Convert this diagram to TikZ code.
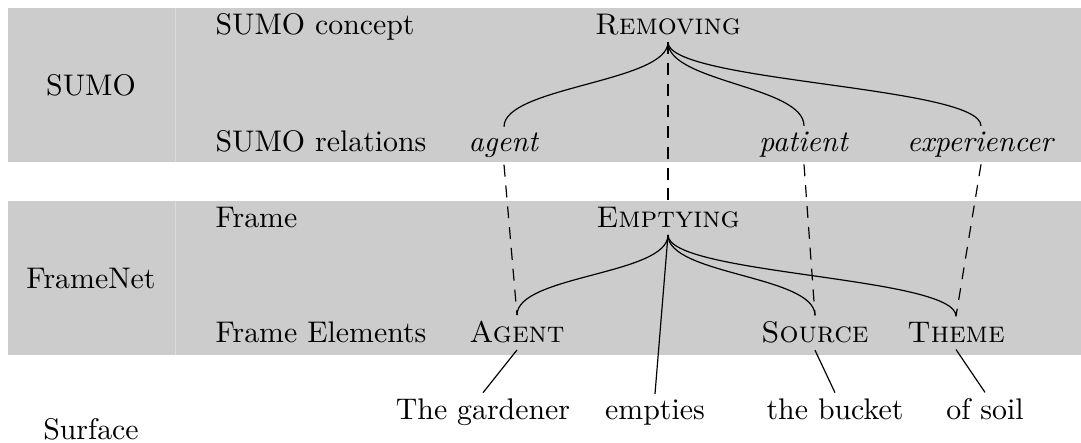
\documentclass[tikz,border=0pt]{standalone}
\usepackage{tikz}
\usetikzlibrary{positioning}
\definecolor{bandgray}{gray}{0.8}
\definecolor{seamgray}{gray}{0.86}

\begin{document}
\begin{tikzpicture}[x=0.335pt, y=0.335pt, every node/.style={inner sep=2pt},
    maplink/.style={dash pattern=on 4pt off 3pt}]
    \useasboundingbox (0,0) rectangle (1081,443);

    % Bänder
    \fill[bandgray] (8,281) rectangle (1081,435);
    \fill[bandgray] (8,88) rectangle (1081,242);
    \draw[seamgray, line width=0.3pt] (175,281) -- (175,435);
    \draw[seamgray, line width=0.3pt] (175,88) -- (175,242);

    % Ebenen
    \node (sumo) at (91,358) {SUMO};
    \node (fnet) at (91,165) {FrameNet};
    \node[anchor=base] (surf) at (91,3) {Surface};

    \node[anchor=base west] (conceptlbl) at (209,408) {SUMO concept};
    \node[anchor=base west] (rellbl) at (209,291) {SUMO relations};
    \node[anchor=base west] (framelbl) at (209,215) {Frame};
    \node[anchor=base west] (felbl) at (209,100) {Frame Elements};

    % Knoten
    \node[anchor=base] (removing) at (668,408) {\textsc{Removing}};
    \node[anchor=base] (agent) at (504,291) {\textit{agent}};
    \node[anchor=base] (patient) at (804,291) {\textit{patient}};
    \node[anchor=base] (exper) at (981,291) {\textit{experiencer}};

    \node[anchor=base] (emptying) at (668,215) {\textsc{Emptying}};
    \node[anchor=base] (Agent) at (517,100) {\textsc{Agent}};
    \node[anchor=base] (Source) at (815,100) {\textsc{Source}};
    \node[anchor=base] (Theme) at (956,100) {\textsc{Theme}};

    \node[anchor=base] (gardener) at (483,23) {The gardener};
    \node[anchor=base] (empties) at (655,23) {empties};
    \node[anchor=base] (bucket) at (835,23) {the bucket};
    \node[anchor=base] (soil) at (985,23) {of soil};

    % Linien
    \draw (removing.south) .. controls +(0,-40) and +(0,40) .. (agent.north);
    \draw (removing.south) .. controls +(0,-40) and +(0,40) .. (patient.north);
    \draw (removing.south) .. controls +(0,-40) and +(0,40) .. (exper.north);
    \draw (emptying.south) .. controls +(0,-40) and +(0,40) .. (Agent.north);
    \draw (emptying.south) .. controls +(0,-40) and +(0,40) .. (Source.north);
    \draw (emptying.south) .. controls +(0,-40) and +(0,40) .. (Theme.north);

    \draw[maplink] (removing.south) -- (emptying.north);
    \draw[maplink] (agent.south) -- (Agent.north);
    \draw[maplink] (patient.south) -- (Source.north);
    \draw[maplink] (exper.south) -- (Theme.north);

    \draw (Agent.south) -- (gardener.north);
    \draw (emptying.south) -- (empties.north);
    \draw (Source.south) -- (bucket.north);
    \draw (Theme.south) -- (soil.north);
\end{tikzpicture}
\end{document}
